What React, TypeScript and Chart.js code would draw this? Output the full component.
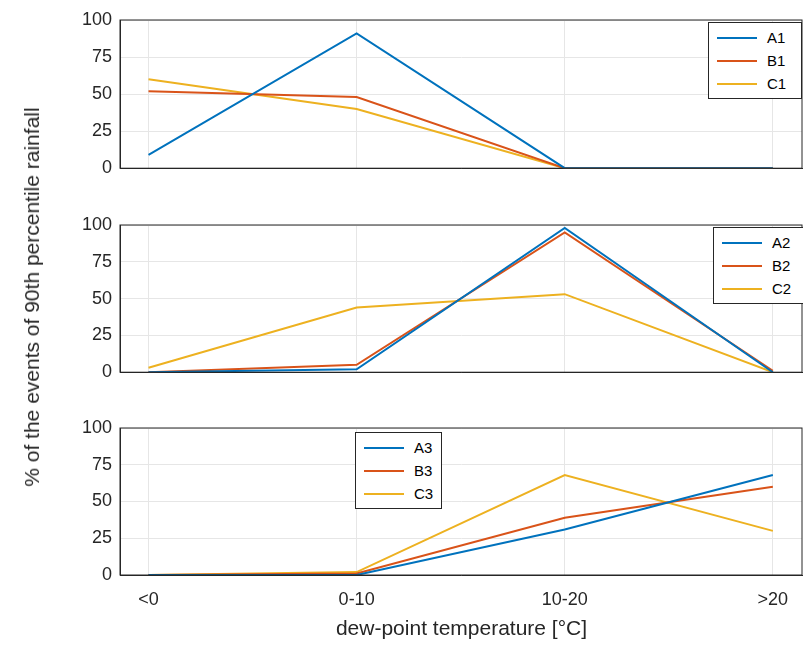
import React, { useEffect, useRef } from 'react';
import { Chart, registerables } from 'chart.js';

Chart.register(...registerables);

const categories = ['<0', '0-10', '10-20', '>20'];
const yTicks = [0, 25, 50, 75, 100];

const a1 = [9, 91, 0, 0];
const b1 = [52, 48, 0, 0];
const c1 = [60, 40, 0, 0];
const a2 = [0, 2, 98, 0];
const b2 = [0, 5, 95, 1];
const c2 = [3, 44, 53, 0];
const a3 = [0, 0, 31, 68];
const b3 = [0, 1, 39, 60];
const c3 = [0, 2, 68, 30];

const colors = ['#0072BD', '#D95319', '#EDB120'];
const FONT = '"Liberation Sans", Arial, sans-serif';

const boxPlugin = {
    id: 'box',
    afterDraw(chart: Chart) {
        const { ctx, chartArea: a } = chart;
        ctx.save();
        ctx.strokeStyle = '#262626';
        ctx.lineWidth = 1;
        ctx.strokeRect(a.left, a.top, a.right - a.left, a.bottom - a.top);
        ctx.restore();
    },
};

interface PanelProps {
    top: number;
    height: number;
    padTop: number;
    xHeight: number;
    showX: boolean;
    series: number[][];
    names: string[];
    legend: { left: number; top: number; width: number };
}

const Panel: React.FC<PanelProps> = ({ top, height, padTop, xHeight, showX, series, names, legend }) => {
    const canvasRef = useRef<HTMLCanvasElement>(null);

    useEffect(() => {
        if (!canvasRef.current) return;
        const chart = new Chart(canvasRef.current, {
            type: 'line',
            data: {
                datasets: series.map((s, i) => ({
                    label: names[i],
                    data: s.map((v, j) => ({ x: j, y: v })),
                    borderColor: colors[i],
                    borderWidth: 2,
                    pointRadius: 0,
                    fill: false,
                })),
            },
            options: {
                animation: false,
                responsive: false,
                maintainAspectRatio: false,
                layout: { padding: { top: padTop, right: 1 } },
                plugins: { legend: { display: false }, tooltip: { enabled: false } },
                scales: {
                    x: {
                        type: 'linear',
                        min: -0.137,
                        max: 3.14,
                        afterBuildTicks: (s: any) => { s.ticks = [0, 1, 2, 3].map((v) => ({ value: v })); },
                        afterFit: (s: any) => { s.height = xHeight; },
                        grid: { color: '#e6e6e6', drawTicks: false },
                        border: { color: '#262626' },
                        ticks: {
                            display: showX,
                            padding: 14,
                            color: '#262626',
                            font: { family: FONT, size: 18 },
                            callback: (v: any) => categories[v] ?? '',
                        },
                    },
                    y: {
                        min: 0,
                        max: 100,
                        afterBuildTicks: (s: any) => { s.ticks = yTicks.map((v) => ({ value: v })); },
                        afterFit: (s: any) => { s.width = 120; },
                        grid: { color: '#e6e6e6', drawTicks: false },
                        border: { color: '#262626' },
                        ticks: { padding: 8, color: '#262626', font: { family: FONT, size: 18 } },
                    },
                },
            },
            plugins: [boxPlugin],
        });
        return () => chart.destroy();
    }, []);

    return (
        <>
            <canvas ref={canvasRef} width={803} height={height} style={{ position: 'absolute', left: 0, top, display: 'block' }} />
            <div style={{
                position: 'absolute', left: legend.left, top: top + legend.top, width: legend.width,
                background: '#fff', border: '1px solid #262626', padding: '3px 0', fontFamily: FONT, fontSize: 15,
            }}>
                {names.map((n, i) => (
                    <div key={n} style={{ display: 'flex', alignItems: 'center', height: 23 }}>
                        <div style={{ width: 40, height: 2, background: colors[i], marginLeft: 8, marginRight: 10 }} />
                        <span>{n}</span>
                    </div>
                ))}
            </div>
        </>
    );
};

export default function App() {
    return (
        <div style={{ position: 'fixed', left: 0, top: 0, width: 803, height: 650, background: '#fff', overflow: 'hidden' }}>
            <Panel top={0} height={187} padTop={20} xHeight={6} showX={false}
                series={[a1, b1, c1]} names={['A1', 'B1', 'C1']} legend={{ left: 708, top: 22, width: 92 }} />
            <Panel top={187} height={204} padTop={38} xHeight={8} showX={false}
                series={[a2, b2, c2]} names={['A2', 'B2', 'C2']} legend={{ left: 713, top: 40, width: 89 }} />
            <Panel top={391} height={259} padTop={37} xHeight={75} showX={true}
                series={[a3, b3, c3]} names={['A3', 'B3', 'C3']} legend={{ left: 355, top: 41, width: 85 }} />
            <div style={{ position: 'absolute', left: 120, width: 683, top: 616, textAlign: 'center', fontFamily: FONT, fontSize: 21, color: '#262626' }}>
                dew-point temperature [°C]
            </div>
            <div style={{
                position: 'absolute', left: 32, top: 297, width: 0, height: 0, fontFamily: FONT, fontSize: 21, color: '#262626',
            }}>
                <div style={{ position: 'absolute', transform: 'translate(-50%, -50%) rotate(-90deg)', whiteSpace: 'nowrap' }}>
                    % of the events of 90th percentile rainfall
                </div>
            </div>
        </div>
    );
}
